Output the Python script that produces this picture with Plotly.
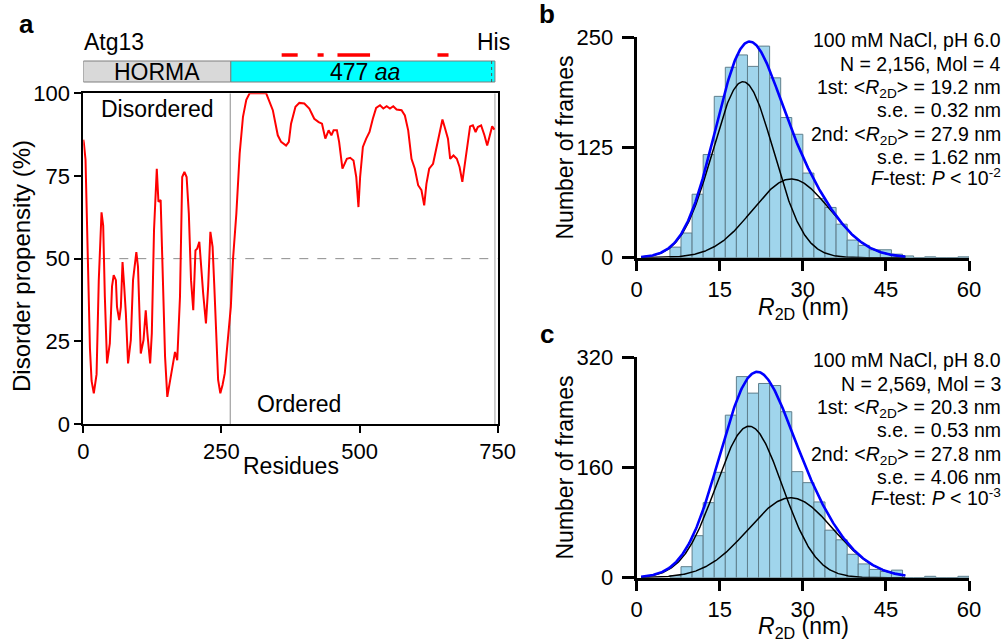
import numpy as np
import plotly.graph_objects as go

W, H = 1007, 643
FONT = "Arial, Liberation Sans, sans-serif"


def px(x):
    return x / W


def py(y):
    return 1 - y / H


# ---------------- Panel a data ----------------
residues = [0, 1, 4, 9, 12, 15, 19, 24, 28, 33, 36, 39, 43, 48, 52, 55, 59, 61, 65, 68,
            71, 74, 77, 81, 86, 90, 96, 99, 104, 109, 113, 116, 121, 124, 128, 133, 136,
            140, 144, 148, 152, 157, 160, 164, 166, 170, 175, 179, 183, 187, 191, 195, 199,
            203, 206, 210, 213, 217, 222, 226, 230, 234, 237, 241, 244, 248, 252, 256, 262,
            267, 271, 277, 283, 289, 295, 301, 331, 337, 343, 352, 358, 367, 372, 376, 384,
            391, 400, 409, 418, 426, 432, 438, 444, 449, 453, 459, 463, 469, 477, 483, 489,
            494, 498, 501, 506, 512, 518, 524, 530, 537, 543, 549, 555, 561, 567, 576, 582,
            588, 594, 600, 606, 612, 617, 621, 626, 633, 639, 644, 650, 654, 660, 664, 670,
            676, 681, 686, 692, 696, 700, 705, 710, 714, 720, 726, 731, 735, 740, 744]
disorder = [86, 85, 80, 43.5, 23, 13, 9.3, 15, 43.5, 64, 60, 38.5, 18.3, 24.4, 41.6, 45,
            43.5, 35.4, 31.4, 35.4, 49, 41.6, 33.5, 18.3, 25.4, 43.5, 52, 47.5, 21.3, 25.4,
            34.4, 27.4, 18.3, 27.4, 58.6, 77.2, 67.2, 67.7, 43.5, 20.3, 8.2, 13.3, 15.3,
            19.3, 21.8, 19.3, 38.5, 74.7, 76.2, 74.7, 63.6, 43.5, 34.4, 52.5, 53, 55.1,
            47.5, 39.4, 30.4, 41.6, 58.1, 53.6, 42.1, 27.4, 13.3, 9.3, 11.8, 15.3, 25.4,
            35.4, 50, 63.6, 81.8, 92.9, 98, 100, 100, 97.4, 94.9, 87.3, 85.3, 84.2, 85.3,
            90.8, 95.9, 97.1, 96.9, 95.4, 92.3, 91.3, 90.8, 86.3, 88.8, 87.3, 88.8, 88.8,
            85.3, 77.2, 80.2, 80.5, 79.7, 74.7, 65.6, 74.7, 83.8, 86.3, 88.3, 92.3, 95.6,
            96.4, 95.4, 96.1, 95.4, 96.1, 95.1, 94.9, 93.3, 88.8, 80.2, 77.2, 72.2, 70.7,
            66.1, 72.6, 77.2, 78.7, 83.8, 87.3, 92.1, 89.8, 86.3, 80.2, 81.2, 80.2, 77.7,
            73.2, 80.2, 85.8, 90, 90.3, 88.3, 89.8, 90.3, 87.3, 84.2, 86.8, 90, 89]

domain_labels = ["HORMA", "477 <i>aa</i>"]
domain_start = [0, 267]
domain_end = [267, 745]
domain_colors = ["#D9D9D9", "#00FFFF"]
his_boundary = 739
order_boundary = 266
red_seg_start = [359, 424, 460, 641]
red_seg_end = [388, 435, 519, 661]
a_xticks = [0, 250, 500, 750]
a_yticks = [0, 25, 50, 75, 100]

# ---------------- Panels b and c data ----------------
bin_left = list(range(6, 60, 2))
counts_b = [12, 28, 72, 117, 183, 216, 230, 217, 240, 204, 159, 140, 96, 67, 57, 38, 20,
            14, 9, 9, 4, 2, 0, 1, 0, 0, 1]
counts_c = [3, 16, 61, 109, 153, 236, 292, 268, 282, 279, 241, 154, 138, 110, 69, 55, 34,
            20, 12, 9, 11, 0, 0, 2, 0, 0, 2]
fit_b_mean = [19.2, 27.9]
fit_b_sd = [5.5, 7.0]
fit_b_amp = [199.6, 89.3]
fit_c_mean = [20.3, 27.8]
fit_c_sd = [6.0, 7.7]
fit_c_amp = [220, 116]
hist_xticks = [0, 15, 30, 45, 60]
b_yticks = [0, 125, 250]
c_yticks = [0, 160, 320]

text_b = ["100 mM NaCl, pH 6.0", "N = 2,156, Mol = 4",
          "1st: &lt;<i>R</i><sub>2D</sub>&gt; = 19.2 nm", "s.e. = 0.32 nm",
          "2nd: &lt;<i>R</i><sub>2D</sub>&gt; = 27.9 nm", "s.e. = 1.62 nm",
          "<i>F</i>-test: <i>P</i> &lt; 10<sup>-2</sup>"]
text_c = ["100 mM NaCl, pH 8.0", "N = 2,569, Mol = 3",
          "1st: &lt;<i>R</i><sub>2D</sub>&gt; = 20.3 nm", "s.e. = 0.53 nm",
          "2nd: &lt;<i>R</i><sub>2D</sub>&gt; = 27.8 nm", "s.e. = 4.06 nm",
          "<i>F</i>-test: <i>P</i> &lt; 10<sup>-3</sup>"]

fig = go.Figure()

# Panel a curve
fig.add_trace(go.Scatter(x=residues, y=disorder, mode="lines",
                         line=dict(color="#FF0000", width=2), xaxis="x", yaxis="y",
                         hoverinfo="skip"))

# Histograms
bar_style = dict(color="#A0D5EC", line=dict(color="#5F7F8C", width=1))
centers = [b + 1 for b in bin_left]
fig.add_trace(go.Bar(x=centers, y=counts_b, width=2, marker=bar_style, xaxis="x2", yaxis="y2"))
fig.add_trace(go.Bar(x=centers, y=counts_c, width=2, marker=bar_style, xaxis="x3", yaxis="y3"))

xs = np.linspace(0.8, 48.5, 400)


def add_fits(means, sds, amps, xa, ya):
    comps = [a * np.exp(-(xs - m) ** 2 / (2 * s ** 2)) for m, s, a in zip(means, sds, amps)]
    for c in comps:
        fig.add_trace(go.Scatter(x=xs, y=c, mode="lines", line=dict(color="black", width=1.5),
                                 xaxis=xa, yaxis=ya, hoverinfo="skip"))
    fig.add_trace(go.Scatter(x=xs, y=comps[0] + comps[1], mode="lines",
                             line=dict(color="#0000FF", width=2.6),
                             xaxis=xa, yaxis=ya, hoverinfo="skip"))


add_fits(fit_b_mean, fit_b_sd, fit_b_amp, "x2", "y2")
add_fits(fit_c_mean, fit_c_sd, fit_c_amp, "x3", "y3")

tickfont = dict(family=FONT, size=22, color="black")

# Axes
ax_a = dict(showgrid=False, zeroline=False, showline=True, linecolor="black", linewidth=2,
            mirror=True, ticks="outside", ticklen=7, tickwidth=2, tickcolor="black",
            tickfont=tickfont, automargin=False)
ax_h = dict(showgrid=False, zeroline=False, showline=True, linecolor="black", linewidth=3,
            ticks="outside", tickwidth=3, tickcolor="black", tickfont=tickfont,
            automargin=False)

shapes = []
# domain boxes
for s, e, col in zip(domain_start, domain_end, domain_colors):
    shapes.append(dict(type="rect", xref="x", yref="paper", x0=s, x1=e, y0=py(82), y1=py(61),
                       fillcolor=col, line=dict(color="#7F7F7F", width=1), layer="above"))
shapes.append(dict(type="line", xref="x", yref="paper", x0=his_boundary, x1=his_boundary,
                   y0=py(82), y1=py(61), line=dict(color="#555555", width=1, dash="dot")))
for s, e in zip(red_seg_start, red_seg_end):
    shapes.append(dict(type="line", xref="x", yref="paper", x0=s, x1=e, y0=py(55), y1=py(55),
                       line=dict(color="#FF0000", width=3.5)))
shapes.append(dict(type="line", xref="x", yref="y", x0=0, x1=750, y0=50, y1=50,
                   line=dict(color="#8C8C8C", width=1, dash="dash"), layer="below"))
shapes.append(dict(type="line", xref="x", yref="y", x0=order_boundary, x1=order_boundary,
                   y0=0, y1=100, line=dict(color="#A0A0A0", width=1.2), layer="below"))
shapes.append(dict(type="line", xref="x", yref="y", x0=745, x1=745,
                   y0=0, y1=100, line=dict(color="#A0A0A0", width=1), layer="below"))

annotations = []


def ann(text, x, y, size, xanchor="center", yanchor="middle", angle=0):
    annotations.append(dict(text=text, x=px(x), y=py(y), xref="paper", yref="paper",
                            showarrow=False, xanchor=xanchor, yanchor=yanchor,
                            textangle=angle, borderpad=0,
                            font=dict(family=FONT, size=size, color="black")))


# panel letters
ann("<b>a</b>", 26, 24, 26)
ann("<b>b</b>", 547, 14, 26)
ann("<b>c</b>", 547, 334, 26)

# panel a texts
ann("Atg13", 83, 42, 23, xanchor="left")
ann("His", 511, 42, 23, xanchor="right")
ann(domain_labels[0], 157, 71.5, 23)
ann(domain_labels[1], 364.5, 71.5, 23)
ann("Disordered", 100, 109, 23, xanchor="left")
ann("Ordered", 298.5, 404, 23)
ann("Residues", 290.5, 466, 23)
ann("Disorder propensity (%)", 22, 266, 24, angle=-90)

# panel b/c titles
ann("Number of frames", 564, 147.5, 23, angle=-90)
ann("Number of frames", 564, 467.5, 23, angle=-90)
ann("<i>R</i><sub>2D</sub> (nm)", 803, 292.5, 23, yanchor="top")
ann("<i>R</i><sub>2D</sub> (nm)", 803, 611.5, 23, yanchor="top")

FS = 19.5
for base0, texts in ((46, text_b), (366, text_c)):
    for i, t in enumerate(texts):
        base = base0 + 23.35 * i
        if "<sup>" in t:
            ann(t, 1002, base + 0.212 * FS, FS, xanchor="right", yanchor="bottom")
        else:
            ann(t, 1002, base - 0.905 * FS, FS, xanchor="right", yanchor="top")

fig.update_layout(
    width=W, height=H, autosize=False,
    margin=dict(l=0, r=0, t=0, b=0, autoexpand=False),
    paper_bgcolor="white", plot_bgcolor="white",
    showlegend=False, bargap=0,
    xaxis=dict(domain=[px(83.3), px(497.7)], anchor="y", range=[0, 750], tickvals=a_xticks, **ax_a),
    yaxis=dict(domain=[py(424), py(93.3)], anchor="x", range=[0, 100], tickvals=a_yticks, **ax_a),
    xaxis2=dict(domain=[px(636.7), px(969)], anchor="y2", range=[0, 60], tickvals=hist_xticks,
                ticklen=10, **ax_h),
    yaxis2=dict(domain=[py(257.7), py(37.3)], anchor="x2", range=[0, 250], tickvals=b_yticks,
                ticklen=12, ticklabelstandoff=4, **ax_h),
    xaxis3=dict(domain=[px(636.7), px(969)], anchor="y3", range=[0, 60], tickvals=hist_xticks,
                ticklen=10, **ax_h),
    yaxis3=dict(domain=[py(577.7), py(357.3)], anchor="x3", range=[0, 320], tickvals=c_yticks,
                ticklen=12, ticklabelstandoff=4, **ax_h),
    shapes=shapes,
    annotations=annotations,
)

fig.write_html("out.html", config={"displayModeBar": False, "staticPlot": True},
               post_script="document.body.style.margin='0';document.body.style.padding='0';"
                           "document.body.style.overflow='hidden';")
